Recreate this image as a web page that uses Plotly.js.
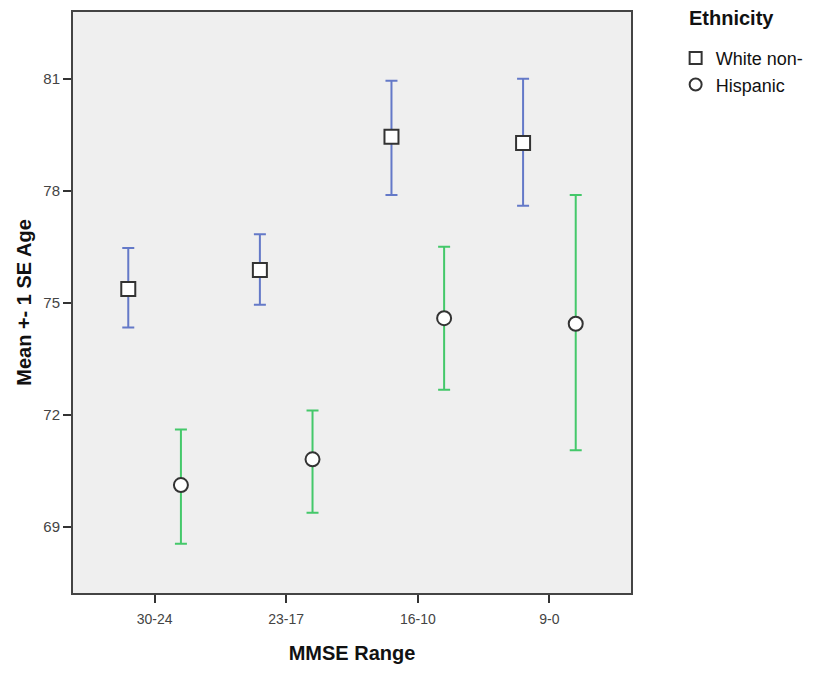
<!DOCTYPE html>
<html>
<head>
<meta charset="utf-8">
<script src="https://cdn.plot.ly/plotly-3.0.1.min.js"></script>
<style>html,body{margin:0;padding:0;background:#fff;}</style>
</head>
<body>
<div id="chart" style="width:819px;height:673px;"></div>
<script>
var categories = ["30-24", "23-17", "16-10", "9-0"];
var seriesNames = ["White non-", "Hispanic"];
var legendTitle = "Ethnicity";
var whiteMean = [75.37, 75.88, 79.45, 79.28];
var whiteUpper = [76.47, 76.84, 80.95, 81.00];
var whiteLower = [74.34, 74.95, 77.89, 77.60];
var hispMean = [70.12, 70.81, 74.59, 74.44];
var hispUpper = [71.61, 72.12, 76.50, 77.89];
var hispLower = [68.55, 69.38, 72.67, 71.05];
var yTicks = [69, 72, 75, 78, 81];

function idx(off) { return categories.map(function (c, i) { return i + off; }); }
function diff(a, b) { return a.map(function (v, i) { return v - b[i]; }); }

var traces = [
  {
    type: "scatter", mode: "markers", name: seriesNames[0],
    x: idx(-0.2), y: whiteMean,
    marker: { symbol: "square", size: 14, color: "#ffffff", line: { color: "#333333", width: 2 } },
    error_y: { type: "data", symmetric: false, array: diff(whiteUpper, whiteMean), arrayminus: diff(whiteMean, whiteLower), color: "#6479c8", thickness: 2, width: 6 }
  },
  {
    type: "scatter", mode: "markers", name: seriesNames[1],
    x: idx(0.2), y: hispMean,
    marker: { symbol: "circle", size: 14, color: "#ffffff", line: { color: "#333333", width: 2 } },
    error_y: { type: "data", symmetric: false, array: diff(hispUpper, hispMean), arrayminus: diff(hispMean, hispLower), color: "#44c86a", thickness: 2, width: 6 }
  }
];

var layout = {
  width: 819, height: 673,
  margin: { l: 73, r: 188, t: 12, b: 80, autoexpand: false },
  paper_bgcolor: "#ffffff",
  plot_bgcolor: "#efefef",
  font: { family: "Liberation Sans, Arial, sans-serif", color: "#444444", size: 14 },
  showlegend: true,
  legend: {
    x: 1.08, xanchor: "left", y: 0.952, yanchor: "top",
    font: { size: 18, color: "#111111" },
    bgcolor: "rgba(0,0,0,0)", itemsizing: "constant", tracegroupgap: 0
  },
  annotations: [{
    text: "<b>" + legendTitle + "</b>", xref: "paper", yref: "paper",
    x: 1.1, xanchor: "left", y: 0.99, yanchor: "middle", showarrow: false,
    font: { size: 20, color: "#111111" }
  }],
  xaxis: {
    range: [-0.62, 3.62],
    tickmode: "array", tickvals: idx(0), ticktext: categories,
    ticks: "outside", ticklen: 8, tickwidth: 2, tickcolor: "#333333",
    ticklabelstandoff: 4,
    showgrid: false, zeroline: false,
    showline: true, mirror: true, linecolor: "#444444", linewidth: 2,
    tickfont: { size: 14, color: "#444444" },
    title: { text: "<b>MMSE Range</b>", font: { size: 20, color: "#111111" }, standoff: 20 }
  },
  yaxis: {
    range: [67.23, 82.79],
    tickmode: "array", tickvals: yTicks, ticktext: yTicks.map(String),
    ticks: "outside", ticklen: 8, tickwidth: 2, tickcolor: "#333333",
    showgrid: false, zeroline: false,
    showline: true, mirror: true, linecolor: "#444444", linewidth: 2,
    tickfont: { size: 15, color: "#444444" },
    title: { text: "<b>Mean +- 1 SE Age</b>", font: { size: 20, color: "#111111" }, standoff: 6 }
  }
};

Plotly.newPlot("chart", traces, layout, { displayModeBar: false, staticPlot: true });
</script>
</body>
</html>
